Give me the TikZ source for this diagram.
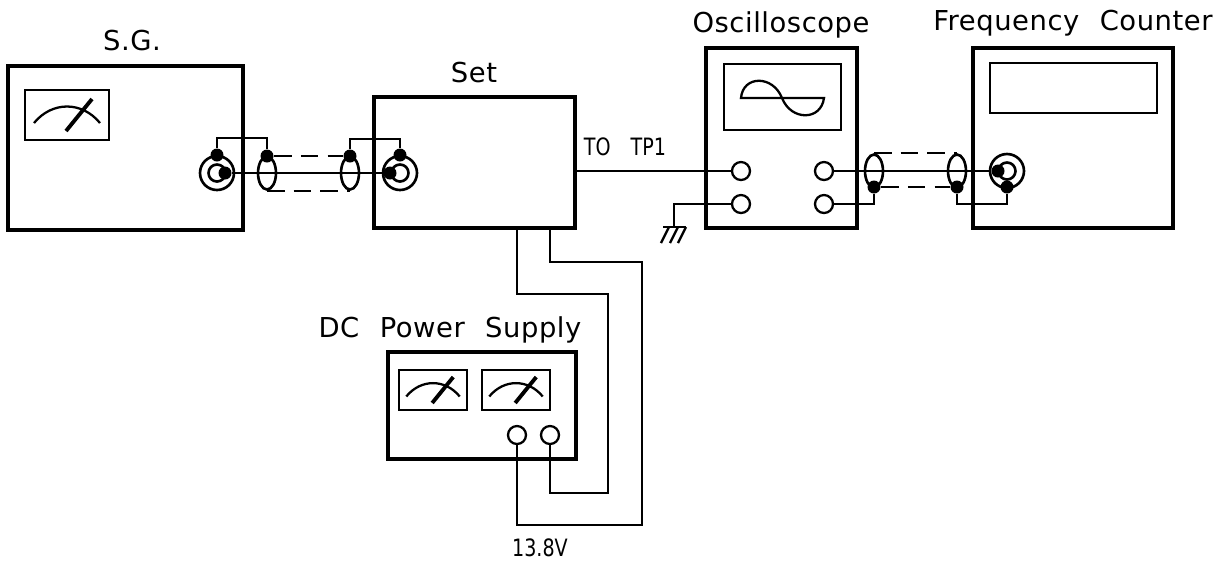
\documentclass[tikz,border=0pt]{standalone}
\usepackage{fontspec}
\setmainfont{DejaVu Sans}[LetterSpace=2,WordSpace=2.2]
\newfontfamily\narrowfont{DejaVu Sans}[FakeStretch=0.8,WordSpace=3.3]
\usetikzlibrary{calc,shapes.geometric}
\tikzset{
  box/.style={draw, line width=1pt, rectangle, anchor=north west, inner sep=0pt, outer sep=0pt},
  panel/.style={draw, line width=0.7pt, rectangle, anchor=north west, inner sep=0pt, outer sep=0pt},
  wire/.style={draw, line width=0.65pt},
  braid/.style={draw, line width=0.65pt, dash pattern=on 5pt off 2.6pt},
  post/.style={circle, draw, fill=white, line width=0.65pt, inner sep=0pt, minimum size=18*0.1mm},
  ring/.style={circle, draw, line width=0.75pt, inner sep=0pt, minimum size=34*0.1mm},
  core/.style={circle, draw, line width=0.75pt, inner sep=0pt, minimum size=17*0.1mm},
  sleeve/.style={ellipse, draw, line width=0.75pt, inner sep=0pt, minimum width=18*0.1mm, minimum height=33*0.1mm},
  dot/.style={circle, fill, inner sep=0pt, minimum size=13*0.1mm},
  lbl/.style={font=\fontsize{7.8pt}{9pt}\selectfont, anchor=base, inner sep=0pt},
  smalllbl/.style={font=\narrowfont\fontsize{6.8pt}{8pt}\selectfont, anchor=base, inner sep=0pt},
  meter/.pic={
    \draw[line width=0.7pt] (-42,-25) rectangle (42,25);
    \draw[line width=0.65pt] (-33,8) .. controls (-15,-14) and (15,-14) .. (33,8);
    \draw[line width=1.1pt] (-1,16) -- (25,-16);
  }
}
\begin{document}
\begin{tikzpicture}[x=0.1mm,y=-0.1mm]
  \useasboundingbox (0,0) rectangle (1228,567);

  % instruments
  \node[box, minimum width=235*0.1mm, minimum height=164*0.1mm] (sgBox) at (8,66) {};
  \node[box, minimum width=201*0.1mm, minimum height=131*0.1mm] (setBox) at (374,97) {};
  \node[box, minimum width=151*0.1mm, minimum height=180*0.1mm] (scopeBox) at (706,48) {};
  \node[box, minimum width=200*0.1mm, minimum height=180*0.1mm] (counterBox) at (973,48) {};
  \node[box, minimum width=188*0.1mm, minimum height=107*0.1mm] (dcBox) at (388,352) {};

  % front panels
  \node[panel, minimum width=117*0.1mm, minimum height=66*0.1mm] (scopeScreen) at (724,64) {};
  \node[panel, minimum width=167*0.1mm, minimum height=50*0.1mm] (counterScreen) at (990,63) {};
  \pic at (67,115) {meter};
  \pic[scale=0.81] at (433,390) {meter};
  \pic[scale=0.81] at (516,390) {meter};
  \draw[wire] (741,98) .. controls (743,75) and (773,75) .. (782,98)
    .. controls (791,121) and (821,121) .. (824,98) -- cycle;

  % labels
  \node[lbl] (sgLabel) at (132,50) {S.G.};
  \node[lbl] (setLabel) at (474,82) {Set};
  \node[lbl] (scopeLabel) at (781,32) {Oscilloscope};
  \node[lbl] (counterLabel) at (1073,30) {Frequency Counter};
  \node[lbl] (dcLabel) at (450,337) {DC Power Supply};
  \node[smalllbl] (tpLabel) at (625,155) {TO TP1};
  \node[smalllbl] (voltLabel) at (540,556) {13.8V};

  % terminals
  \node[post] (scopeInA) at (741,171) {};
  \node[post] (scopeInB) at (741,204) {};
  \node[post] (scopeOutA) at (824,171) {};
  \node[post] (scopeOutB) at (824,204) {};
  \node[post] (dcPlus) at (517,435) {};
  \node[post] (dcMinus) at (550,435) {};

  % coaxial sockets
  \node[ring] (sgRing) at (217,173) {};
  \node[core] (sgCore) at (217,173) {};
  \node[ring] (setRing) at (400,173) {};
  \node[core] (setCore) at (400,173) {};
  \node[ring] (counterRing) at (1007,171) {};
  \node[core] (counterCore) at (1007,171) {};

  % cable sleeves
  \node[sleeve] (sgSleeve) at (267,173) {};
  \node[sleeve] (setSleeve) at (350,173) {};
  \node[sleeve] (outSleeve) at (874,171) {};
  \node[sleeve] (cntSleeve) at (957,171) {};

  % solder points
  \node[dot] (sgPin) at (225,173) {};
  \node[dot] (sgShield) at (217,155) {};
  \node[dot] (sgBraid) at (267,156) {};
  \node[dot] (setBraid) at (350,156) {};
  \node[dot] (setShield) at (400,155) {};
  \node[dot] (setPin) at (390,173) {};
  \node[dot] (outBraid) at (874,187) {};
  \node[dot] (cntBraid) at (957,187) {};
  \node[dot] (counterPin) at (998,171) {};
  \node[dot] (counterShield) at (1007,187) {};

  % left cable
  \draw[wire] (sgPin) -- (setPin);
  \draw[wire] (sgShield) -- ++(0,-17) -| (sgBraid);
  \draw[wire] (setBraid) -- ++(0,-17) -| (setShield);
  \draw[braid] (sgBraid) -- (setBraid);
  \draw[braid] (sgSleeve.south) -- (setSleeve.south);

  % right cable
  \draw[wire] (scopeOutA) -- (counterPin);
  \draw[wire] (scopeOutB) -| (outBraid);
  \draw[wire] (cntBraid) |- (counterShield |- scopeOutB) -- (counterShield);
  \draw[braid] (outSleeve.north) -- (cntSleeve.north);
  \draw[braid] (outBraid) -- (cntBraid);

  % probe and ground
  \coordinate (setOut) at (setBox.east |- scopeInA);
  \coordinate (gndTop) at (674,227);
  \draw[wire] (setOut) -- (scopeInA);
  \draw[wire] (scopeInB) -| (gndTop);
  \draw[wire] ($(gndTop)+(-11,0)$) -- ($(gndTop)+(12,0)$);
  \foreach \hx in {-5,4,12} {
    \draw[wire] ($(gndTop)+(\hx,0)$) -- ++(-8,16);
  }

  % supply leads
  \coordinate (setLeadA) at (setBox.south -| dcPlus);
  \coordinate (setLeadB) at (setBox.south -| dcMinus);
  \draw[wire] (setLeadA) |- (608,294) |- (550,493) -- (dcMinus);
  \draw[wire] (setLeadB) |- (642,262) |- (517,525) -- (dcPlus);
\end{tikzpicture}
\end{document}
